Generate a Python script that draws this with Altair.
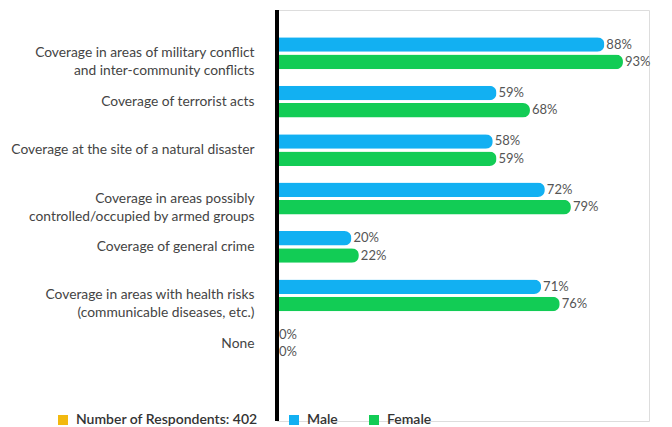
import altair as alt
import pandas as pd

categories = [
    "Coverage in areas of military conflict|and inter-community conflicts",
    "Coverage of terrorist acts",
    "Coverage at the site of a natural disaster",
    "Coverage in areas possibly|controlled/occupied by armed groups",
    "Coverage of general crime",
    "Coverage in areas with health risks|(communicable diseases, etc.)",
    "None",
]
male = [88, 59, 58, 72, 20, 71, 0]
female = [93, 68, 59, 79, 22, 76, 0]
series = ["Male", "Female"]
legend_note = "Number of Respondents: 402"

rows = []
for c, m, f in zip(categories, male, female):
    rows.append({"cat": c, "gender": "Male", "value": m, "label": f"{m}%"})
    rows.append({"cat": c, "gender": "Female", "value": f, "label": f"{f}%"})
df = pd.DataFrame(rows)

color_domain = [legend_note] + series
color_range = ["#F2B90F", "#12B0F2", "#12CC55"]

FONT = "Lato"
H = 411

y_enc = alt.Y(
    "cat:N",
    sort=categories,
    title=None,
    scale=alt.Scale(range=[19, 358], paddingInner=0, paddingOuter=0),
    axis=alt.Axis(
        labelExpr="split(datum.label, '|')",
        labelFont=FONT,
        labelFontSize=13.8,
        labelColor="#444444",
        labelPadding=23,
        labelLimit=300,
        labelLineHeight=18,
        ticks=False,
        domain=False,
        minExtent=269,
        maxExtent=269,
        grid=False,
    ),
)
yoff = alt.YOffset(
    "gender:N",
    sort=series,
    scale=alt.Scale(paddingInner=0.16, paddingOuter=0.48),
)
x_enc = alt.X(
    "value:Q",
    scale=alt.Scale(domain=[0, 100]),
    axis=None,
)

bars = alt.Chart(df).mark_bar(cornerRadiusEnd=7).encode(
    y=y_enc,
    yOffset=yoff,
    x=x_enc,
    color=alt.Color(
        "gender:N",
        scale=alt.Scale(domain=color_domain, range=color_range),
        legend=alt.Legend(
            title=None,
            orient="none",
            legendX=-221,
            legendY=403,
            padding=0,
            direction="horizontal",
            symbolType="square",
            symbolSize=100,
            symbolStrokeWidth=0,
            labelFont=FONT,
            labelFontSize=14,
            labelFontWeight=600,
            labelColor="#333333",
            labelOffset=6,
            columnPadding=29,
            labelLimit=400,
        ),
    ),
)

texts = alt.Chart(df).mark_text(
    align="left", baseline="middle", dx=2, font=FONT, fontSize=13, color="#555555"
).encode(
    y=alt.Y("cat:N", sort=categories),
    yOffset=yoff,
    x=x_enc,
    text="label:N",
)

axis_line = alt.Chart(df).mark_rule(color="#000000", strokeWidth=3.5).encode(
    x=alt.value(0), y=alt.value(0), y2=alt.value(H)
)

chart = (
    alt.layer(bars, texts, axis_line)
    .properties(width=372, height=H, padding=0)
    .configure_view(strokeWidth=0, stroke="transparent")
    .configure(background="#ffffff")
)

chart.save("out.html", embed_options={"renderer": "svg", "actions": False})
